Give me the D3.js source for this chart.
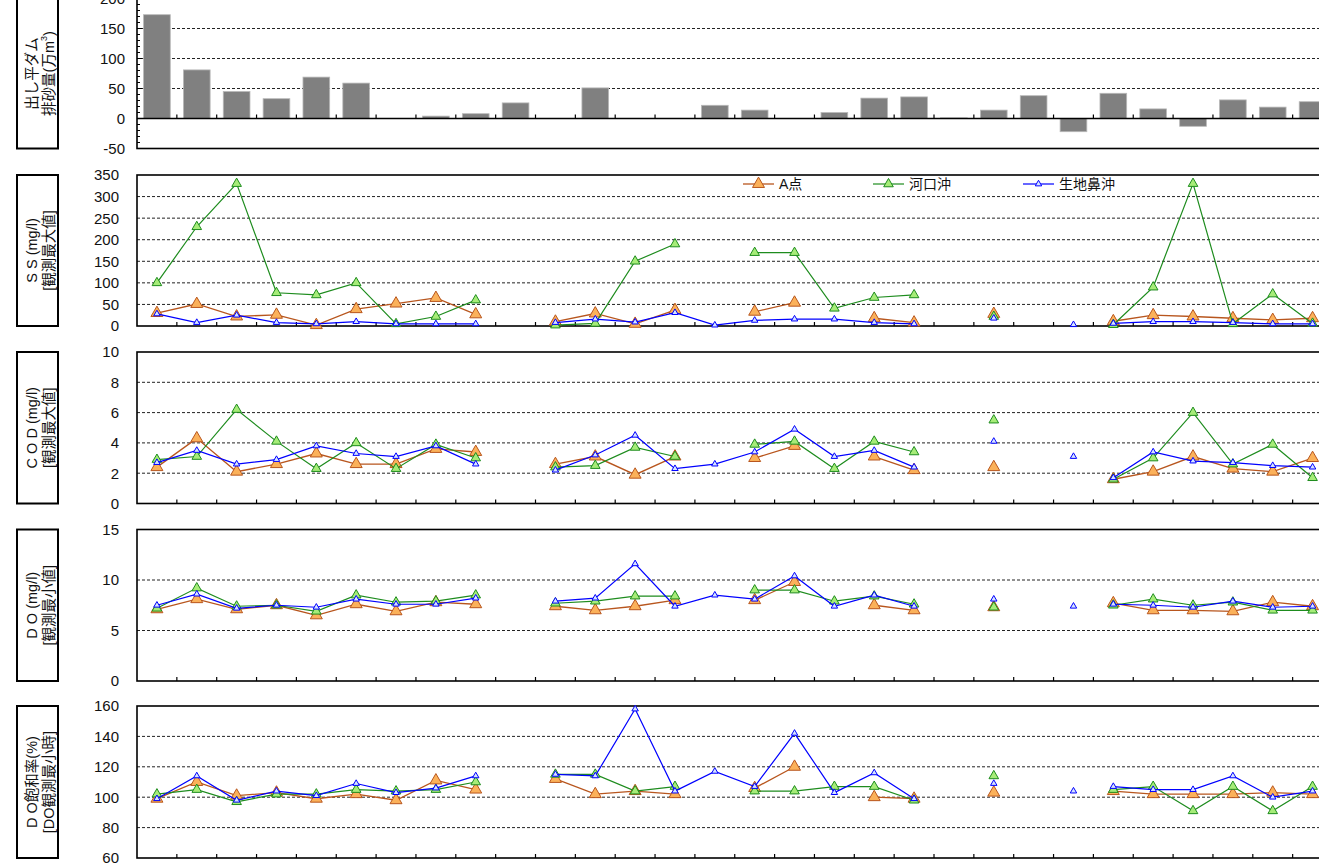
<!DOCTYPE html>
<html>
<head>
<meta charset="utf-8">
<script src="https://cdn.jsdelivr.net/npm/d3@7"></script>
<style>
  body { margin: 0; background: #fff; }
  svg { display: block; font-family: "Liberation Sans", Arial, "Noto Sans CJK JP", sans-serif; }
</style>
</head>
<body>
<svg id="chart" width="1319" height="867"></svg>
<script>
// 30 flushing events (no labels shown on the x axis)
const events = ["1", "2", "3", "4", "5", "6", "7", "8", "9", "10",
  "11", "12", "13", "14", "15", "16", "17", "18", "19", "20",
  "21", "22", "23", "24", "25", "26", "27", "28", "29", "30"];

// lines are not joined across these event indexes (new survey period starts after them)
const lineBreaks = [23];

// 出し平ダム 排砂量 (万m3)
const sediment = [173, 81, 45, 33, 69, 59, 0, 4, 8, 26, 0, 51, 0, 0, 22, 14, 0, 10, 34, 36, 1, 14, 38, -22, 42, 16, -13, 31, 19, 28];

const seriesNames = ["A点", "河口沖", "生地鼻沖"];

// SS (mg/l) 観測最大値
const ssA = [30, 51, 22, 26, 2, 39, 52, 65, 27, null, 10, 29, 5, 37, null, 33, 54, null, 18, 8, null, 28, null, null, 11, 25, 22, 18, 14, 18];
const ssKako = [100, 230, 330, 77, 72, 100, 5, 22, 60, null, 2, 6, 150, 190, null, 170, 170, 41, 66, 72, null, 22, null, null, 3, 90, 330, 5, 74, 6];
const ssIkuji = [28, 8, 25, 8, 5, 10, 5, 5, 5, null, 8, 16, 9, 31, 2, 13, 16, 16, 8, 5, null, 18, null, 3, 6, 10, 10, 8, 5, 5];

// COD (mg/l) 観測最大値
const codA = [2.4, 4.3, 2.1, 2.6, 3.3, 2.6, 2.6, 3.6, 3.4, null, 2.6, 3.1, 1.9, 3.1, null, 3.0, 3.8, null, 3.1, 2.2, null, 2.4, null, null, 1.6, 2.1, 3.1, 2.3, 2.1, 3.0];
const codKako = [2.9, 3.1, 6.2, 4.1, 2.3, 4.0, 2.3, 3.9, 3.0, null, 2.4, 2.5, 3.7, 3.1, null, 3.9, 4.1, 2.3, 4.1, 3.4, null, 5.5, null, null, 1.6, 3.0, 6.0, 2.6, 3.9, 1.7];
const codIkuji = [2.7, 3.5, 2.6, 2.9, 3.8, 3.3, 3.1, 3.8, 2.6, null, 2.2, 3.2, 4.5, 2.3, 2.6, 3.4, 4.9, 3.1, 3.5, 2.4, null, 4.1, null, 3.1, 1.7, 3.4, 2.8, 2.7, 2.5, 2.4];

// DO (mg/l) 観測最小値
const doA = [7.1, 8.1, 7.1, 7.5, 6.5, 7.6, 6.9, 7.8, 7.6, null, 7.4, 7.0, 7.4, 8.0, null, 8.0, 9.8, null, 7.5, 7.0, null, 7.3, null, null, 7.7, 7.0, 7.0, 6.9, 7.8, 7.4];
const doKako = [7.2, 9.2, 7.4, 7.5, 6.9, 8.5, 7.8, 7.9, 8.5, null, 7.7, 7.9, 8.4, 8.4, null, 9.0, 9.0, 7.9, 8.4, 7.6, null, 7.3, null, null, 7.5, 8.1, 7.5, 7.8, 7.0, 7.0];
const doIkuji = [7.5, 8.6, 7.2, 7.5, 7.3, 8.1, 7.6, 7.6, 8.2, null, 7.9, 8.2, 11.6, 7.4, 8.5, 8.1, 10.4, 7.4, 8.5, 7.4, null, 8.1, null, 7.4, 7.6, 7.5, 7.3, 7.9, 7.3, 7.4];

// DO飽和率 (%) DO観測最小時
const satA = [99, 110, 101, 103, 99, 102, 98, 111, 105, null, 112, 102, 104, 102, null, 106, 120, null, 100, 99, null, 103, null, null, 104, 102, 102, 102, 103, 102];
const satKako = [102, 105, 97, 102, 102, 105, 104, 105, 110, null, 115, 115, 104, 107, null, 104, 104, 107, 107, 98, null, 114, null, null, 105, 107, 91, 107, 91, 107];
const satIkuji = [99, 114, 98, 104, 101, 109, 103, 106, 114, null, 115, 114, 158, 104, 117, 107, 142, 103, 116, 99, null, 109, null, 104, 107, 105, 105, 114, 100, 104];

const styles = [
  {line: "#b8561e", fill: "#fbb15a", stroke: "#b8561e", size: 62, width: 1.3},
  {line: "#1e8c1e", fill: "#a6ec78", stroke: "#1e8c1e", size: 40, width: 1.2},
  {line: "#0000ff", fill: "#d6e4ff", stroke: "#0000ff", size: 18, width: 1.2}
];

const svg = d3.select("#chart");
const left = 137;
const band = 39.85;
const x = d3.scaleBand().domain(events).range([left, left + band * events.length]);
const cx = d => x(d) + x.bandwidth() / 2;

const panels = [
  {top: -1.5, bottom: 148.5, domain: [-50, 200], step: 50, labelX: 125, bars: sediment,
    title: ["出し平ダム", "排砂量(万m"], sup: "3", close: ")"},
  {top: 175, bottom: 326, domain: [0, 350], step: 50, labelX: 119, series: [ssA, ssKako, ssIkuji],
    title: ["S S (mg/l)", "[観測最大値]"], legend: true},
  {top: 352, bottom: 503.5, domain: [0, 10], step: 2, labelX: 119, series: [codA, codKako, codIkuji],
    title: ["C O D (mg/l)", "[観測最大値]"]},
  {top: 529.5, bottom: 681, domain: [0, 15], step: 5, labelX: 119, series: [doA, doKako, doIkuji],
    title: ["D O (mg/l)", "[観測最小値]"]},
  {top: 706, bottom: 858, domain: [60, 160], step: 20, labelX: 119, series: [satA, satKako, satIkuji],
    title: ["D O飽和率(%)", "[DO観測最小時]"]}
];

const right = x.range()[1];

panels.forEach(p => {
  const y = d3.scaleLinear().domain(p.domain).range([p.bottom, p.top]);
  const ticks = d3.range(p.domain[0], p.domain[1] + p.step / 2, p.step);
  const g = svg.append("g");

  // dashed gridlines
  g.selectAll(".grid")
    .data(ticks.filter(t => t !== p.domain[0] && t !== p.domain[1] && t !== 0))
    .enter().append("line")
    .attr("x1", left).attr("x2", right)
    .attr("y1", d => y(d)).attr("y2", d => y(d))
    .attr("stroke", "#222").attr("stroke-width", 1)
    .attr("stroke-dasharray", "3,2");

  // tick labels
  g.selectAll(".lab")
    .data(ticks)
    .enter().append("text")
    .attr("x", p.labelX).attr("y", d => y(d))
    .attr("dy", "0.36em")
    .attr("text-anchor", "end")
    .attr("font-size", 15)
    .attr("fill", "#111")
    .text(d => d);

  if (p.bars) {
    const bw = x.bandwidth() * 0.67;
    g.selectAll(".bar")
      .data(events)
      .enter().append("rect")
      .attr("x", d => cx(d) - bw / 2)
      .attr("width", bw)
      .attr("y", (d, i) => y(Math.max(0, p.bars[i])))
      .attr("height", (d, i) => Math.abs(y(p.bars[i]) - y(0)))
      .attr("fill", "#808080")
      .attr("stroke", "#b8b8b8")
      .attr("stroke-width", 0.8);

    // minor ticks on left axis
    g.selectAll(".minor")
      .data(d3.range(p.domain[0], p.domain[1] + 1, 10))
      .enter().append("line")
      .attr("x1", left).attr("x2", d => left + (d % 50 === 0 ? 5 : 3))
      .attr("y1", d => y(d)).attr("y2", d => y(d))
      .attr("stroke", "#000");

    g.append("line")
      .attr("x1", left).attr("x2", right)
      .attr("y1", y(0)).attr("y2", y(0))
      .attr("stroke", "#000").attr("stroke-width", 1.5);
  }

  // x ticks at category boundaries
  const tickBase = p.bars ? y(0) : p.bottom;
  g.selectAll(".xt")
    .data(events.slice(1))
    .enter().append("line")
    .attr("x1", d => x(d)).attr("x2", d => x(d))
    .attr("y1", tickBase).attr("y2", tickBase - 4)
    .attr("stroke", "#000").attr("stroke-width", 1.2);

  // plot frame
  g.append("rect")
    .attr("x", left).attr("y", p.top)
    .attr("width", right - left).attr("height", p.bottom - p.top)
    .attr("fill", "none").attr("stroke", "#000").attr("stroke-width", 1.6);

  if (p.series) {
    p.series.forEach((vals, si) => {
      const st = styles[si];
      const pts = events.map((e, i) => ({e, i, v: vals[i]}));
      const line = d3.line()
        .defined(d => d.v != null)
        .x(d => cx(d.e))
        .y(d => y(d.v));
      // split into runs at the period breaks
      const cuts = [0, ...lineBreaks.map(b => b + 1), pts.length];
      for (let k = 0; k < cuts.length - 1; k++) {
        g.append("path")
          .attr("d", line(pts.slice(cuts[k], cuts[k + 1])))
          .attr("fill", "none")
          .attr("stroke", st.line)
          .attr("stroke-width", st.width);
      }
      g.selectAll(null)
        .data(pts.filter(d => d.v != null))
        .enter().append("path")
        .attr("transform", d => `translate(${cx(d.e)},${y(d.v)})`)
        .attr("d", d3.symbol(d3.symbolTriangle, st.size))
        .attr("fill", st.fill)
        .attr("stroke", st.stroke)
        .attr("stroke-width", 1);
    });
  }

  if (p.legend) {
    const items = [743, 873, 1023];
    const ly = 184;
    seriesNames.forEach((name, si) => {
      const st = styles[si];
      const lx = items[si];
      g.append("line")
        .attr("x1", lx).attr("x2", lx + 31)
        .attr("y1", ly).attr("y2", ly)
        .attr("stroke", st.line).attr("stroke-width", st.width);
      g.append("path")
        .attr("transform", `translate(${lx + 15.5},${ly})`)
        .attr("d", d3.symbol(d3.symbolTriangle, st.size))
        .attr("fill", st.fill).attr("stroke", st.stroke);
      g.append("text")
        .attr("x", lx + 36).attr("y", ly)
        .attr("dy", "0.36em")
        .attr("font-size", 14)
        .attr("fill", "#111")
        .text(name);
    });
  }

  // label box on the left
  const boxTop = Math.max(p.top, -2);
  svg.append("rect")
    .attr("x", 17).attr("y", boxTop)
    .attr("width", 41).attr("height", p.bottom - boxTop)
    .attr("fill", "none").attr("stroke", "#000").attr("stroke-width", 2);

  const mid = (p.top + p.bottom) / 2;
  const tg = svg.append("g")
    .attr("transform", `translate(39,${mid}) rotate(-90)`)
    .attr("font-size", 14.5)
    .attr("fill", "#111");
  tg.append("text")
    .attr("x", 0).attr("y", -7.5)
    .attr("text-anchor", "middle")
    .attr("dominant-baseline", "central")
    .text(p.title[0]);
  const t2 = tg.append("text")
    .attr("x", 0).attr("y", 9.5)
    .attr("text-anchor", "middle")
    .attr("dominant-baseline", "central")
    .text(p.title[1]);
  if (p.sup) {
    t2.append("tspan").attr("baseline-shift", "super").attr("font-size", 9).text(p.sup);
    t2.append("tspan").text(p.close);
  }
});
</script>
</body>
</html>
